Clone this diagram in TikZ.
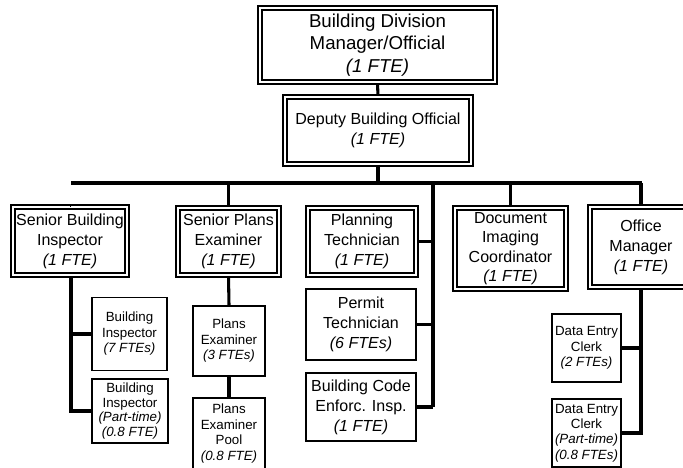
\documentclass[tikz,border=0pt]{standalone}
\usepackage{fontspec}
\setmainfont{Liberation Sans}
\tikzset{
  lead/.style={draw, double, line width=1.3pt, double distance=1.6pt, align=center, inner sep=0pt},
  staff/.style={draw, line width=1.2pt, align=center, inner sep=0pt},
  big/.style={font=\fontsize{12}{15}\selectfont},
  small/.style={font=\fontsize{10}{11.6}\selectfont},
  conn/.style={line width=2.3pt}
}
\begin{document}
\begin{tikzpicture}[x=0.75pt,y=-0.75pt]
        \useasboundingbox (0,0) rectangle (683,468);
        \clip (0,0) rectangle (683,468);

        \node [lead, font=\fontsize{14}{16.9}\selectfont, minimum width=176.6pt, minimum height=55.8pt] (chief) at (377.5,45) {Building Division\\Manager/Official\\\textit{(1 FTE)}};
        \node [lead, big, minimum width=139.8pt, minimum height=50.6pt] (deputy) at (378,130.5) {Deputy Building Official\\\textit{(1 FTE)}};

        \node [lead, big, minimum width=85.1pt, minimum height=51.3pt] (sbi) at (70,241) {Senior Building\\Inspector\\\textit{(1 FTE)}};
        \node [lead, big, minimum width=76.1pt, minimum height=50.6pt] (spe) at (228.5,241.5) {Senior Plans\\Examiner\\\textit{(1 FTE)}};
        \node [lead, big, minimum width=81.3pt, minimum height=50.6pt] (plantech) at (362,241.5) {Planning\\Technician\\\textit{(1 FTE)}};
        \node [lead, font=\fontsize{12}{14.6}\selectfont, minimum width=83.6pt, minimum height=61.1pt] (docimg) at (510.5,248.5) {Document\\Imaging\\Coordinator\\\textit{(1 FTE)}};
        \node [lead, big, minimum width=76.8pt, minimum height=60.3pt] (offmgr) at (641,247) {Office\\Manager\\\textit{(1 FTE)}};

        \node [staff, small, minimum width=56.6pt, minimum height=55pt] (insp) at (129.5,334) {Building\\Inspector\\\textit{(7 FTEs)}};
        \node [staff, font=\fontsize{10}{10.8}\selectfont, minimum width=56.6pt, minimum height=48.3pt] (insppt) at (130,411) {Building\\Inspector\\\textit{(Part-time)}\\\textit{(0.8 FTE)}};
        \node [staff, small, minimum width=54.3pt, minimum height=52.8pt] (exam) at (229,341) {Plans\\Examiner\\\textit{(3 FTEs)}};
        \node [staff, small, minimum width=54.3pt, minimum height=53.6pt] (pool) at (229,433.5) {Plans\\Examiner\\Pool\\\textit{(0.8 FTE)}};
        \node [staff, big, minimum width=82.8pt, minimum height=53.6pt] (permit) at (361,324.5) {Permit\\Technician\\\textit{(6 FTEs)}};
        \node [staff, big, minimum width=82.8pt, minimum height=51.3pt] (enforce) at (361,407) {Building Code\\Enforc. Insp.\\\textit{(1 FTE)}};
        \node [staff, small, minimum width=52.1pt, minimum height=51.3pt] (clerk) at (586.5,348) {Data Entry\\Clerk\\\textit{(2 FTEs)}};
        \node [staff, small, minimum width=52.1pt, minimum height=51.3pt] (clerkpt) at (586.5,433) {Data Entry\\Clerk\\\textit{(Part-time)}\\\textit{(0.8 FTEs)}};

        % main bar
        \coordinate (barL) at (71,183);
        \coordinate (barR) at (642,183);
        \coordinate (techbus) at (433,407);
        \draw [conn] (chief.south) -- (deputy.north);
        \draw [conn] (deputy.south) -- (deputy.south |- barL);
        \draw [conn] (barL) -- (barR);
        \draw [conn] (sbi.north -| barL) -- (sbi.north);
        \draw [conn] (spe.north) -- (spe.north |- barL);
        \draw [conn] (docimg.north) -- (docimg.north |- barL);
        \draw [conn] (offmgr.north) -- (offmgr.north |- barL);

        % technicians
        \draw [line width=2.8pt] (techbus |- barL) -- (techbus);
        \draw [conn] (plantech.east) -- (plantech.east -| techbus);
        \draw [conn] (permit.east) -- (permit.east -| techbus);
        \draw [conn] (enforce.east) -- (techbus);

        % inspectors
        \draw [conn] (sbi.south -| barL) |- (insppt.west);
        \draw [conn] (insp.west) -- (insp.west -| barL);

        % plans
        \draw [conn] (spe.south) -- (exam.north);
        \draw [conn] (exam.south) -- (pool.north);

        % clerks
        \draw [conn] (offmgr.south) |- (clerkpt.east);
        \draw [conn] (clerk.east) -- (clerk.east -| offmgr.south);
      \end{tikzpicture}
\end{document}
